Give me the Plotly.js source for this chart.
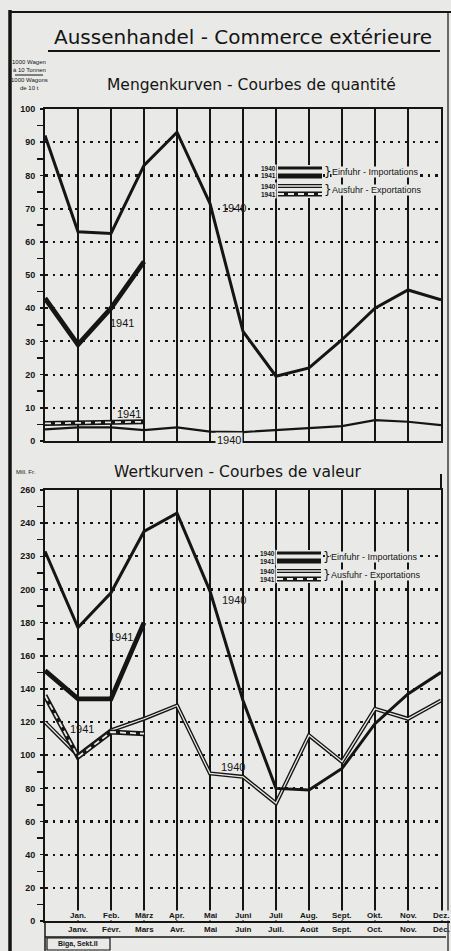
<!DOCTYPE html>
<html>
<head>
<meta charset="utf-8">
<script src="https://cdn.plot.ly/plotly-3.0.1.min.js"></script>
<style>
html,body{margin:0;padding:0;background:#e9e9e7;}
#chart{width:451px;height:951px;}
</style>
</head>
<body>
<div id="chart"></div>
<script>
// ---------- DATA ----------
const positions = [0,1,2,3,4,5,6,7,8,9,10,11,12]; // 0 = Dez. of previous year
const positions1941 = [0,1,2,3];
const monthsDE = ["Jan.","Feb.","März","Apr.","Mai","Juni","Juli","Aug.","Sept.","Okt.","Nov.","Dez."];
const monthsFR = ["Janv.","Févr.","Mars","Avr.","Mai","Juin","Juil.","Août","Sept.","Oct.","Nov.","Déc."];

// Quantity (1000 wagons of 10 t)
const imports1940Qty = [92, 63, 62.5, 83, 93, 71.5, 33, 19.5, 22, 30.5, 40, 45.5, 42.5];
const imports1941Qty = [43, 29, 40, 54];
const exports1940Qty = [3.5, 4.1, 4.1, 3.3, 4.1, 2.8, 2.7, 3.3, 4, 4.5, 6.3, 5.8, 4.8];
const exports1941Qty = [5.3, 5.4, 5.6, 5.8];

// Value (Mill. Fr.)
const imports1940Val = [223, 177, 198, 235, 246, 199, 133, 80, 79, 92, 119, 137, 150];
const imports1941Val = [151, 134, 134, 180];
const exports1940Val = [120, 100, 115, 122, 130, 89, 87, 71, 112, 96, 128, 122, 133];
const exports1941Val = [136, 99, 114, 113];

const qtyTicks = [0,10,20,30,40,50,60,70,80,90,100];
const qtyTickText = ["0","10","20","30","40","50","60","70","80","90","100"];
const valTicks = [0,20,40,60,80,100,120,140,160,180,200,220,240,260];
const valTickText = ["0","20","40","60","80","100","120","140","160","180","200","230","240","260"];

// ---------- HELPERS ----------
const W = 451, H = 951;
const px = x => x / W;
const py = y => 1 - y / H;
const INK = "#151515";
const PAPER = "#e9e9e7";

function ln(x, y, xa, ya, width, color, dash) {
  return {type:"scatter", mode:"lines", x:x, y:y, xaxis:xa, yaxis:ya,
          line:{color:color, width:width, dash:dash||"solid"},
          hoverinfo:"skip", showlegend:false, cliponaxis:true};
}

const traces = [
  // Top: quantity
  ln(positions, exports1940Qty, "x", "y", 2.2, INK),
  ln(positions1941, exports1941Qty, "x", "y", 5, INK),
  ln(positions1941, exports1941Qty, "x", "y", 1.8, PAPER, "6px,4px"),
  ln(positions, imports1940Qty, "x", "y", 3, INK),
  ln(positions1941, imports1941Qty, "x", "y", 4.8, INK),
  // Bottom: value
  ln(positions, exports1940Val, "x2", "y2", 4, INK),
  ln(positions, exports1940Val, "x2", "y2", 1.3, PAPER),
  ln(positions1941, exports1941Val, "x2", "y2", 5, INK),
  ln(positions1941, exports1941Val, "x2", "y2", 1.8, PAPER, "6px,4px"),
  ln(positions, imports1940Val, "x2", "y2", 3, INK),
  ln(positions1941, imports1941Val, "x2", "y2", 4.8, INK)
];

const tickFont = {family:"Liberation Sans, Arial, sans-serif", size:9, color:INK, weight:"bold"};

function xAxis(anchor) {
  return {domain:[px(45), px(441)], range:[0,12], anchor:anchor,
          showgrid:true, gridcolor:INK, gridwidth:1.6, dtick:1, tick0:0,
          showticklabels:false, ticks:"", zeroline:false,
          showline:true, linecolor:INK, linewidth:2, mirror:true, fixedrange:true};
}
function yAxis(domain, range, tv, tt, minorVals) {
  return {domain:domain, range:range,
          tickvals:tv, ticktext:tt, tickfont:tickFont,
          ticks:"outside", ticklen:3, tickwidth:1.5, tickcolor:INK, ticklabelstandoff:3,
          showgrid:true, gridcolor:INK, gridwidth:2.2, griddash:"2.5px,5px",
          zeroline:false, showline:true, linecolor:INK, linewidth:2, mirror:true,
          minor:{tickvals:minorVals, ticks:"outside", ticklen:6, tickwidth:1.5, tickcolor:INK, showgrid:false},
          fixedrange:true};
}
const qtyMinor = [5,15,25,35,45,55,65,75,85,95];
const valMinor = [10,30,50,70,90,110,130,150,170,190,210,230,250];

const yTop = yAxis([py(441), py(109)], [0,100], qtyTicks, qtyTickText, qtyMinor);
yTop.anchor = "x";
const yBot = yAxis([py(921), py(490)], [0,260], valTicks, valTickText, valMinor);
yBot.anchor = "x2";

const shapes = [];
const annotations = [];
function seg(x0,y0,x1,y1,w,color,dash){
  shapes.push({type:"line", xref:"paper", yref:"paper", x0:px(x0), y0:py(y0), x1:px(x1), y1:py(y1),
               line:{color:color||INK, width:w, dash:dash||"solid"}, layer:"above"});
}
function txt(x,y,text,size,anchor,extra){
  const a = Object.assign({xref:"paper", yref:"paper", x:px(x), y:py(y), text:text, showarrow:false,
          xanchor:anchor||"center", yanchor:"middle",
          font:{family:"DejaVu Sans, sans-serif", size:size, color:INK}}, extra||{});
  annotations.push(a);
}

// Outer frame
seg(10,10,10,951,3.5);
seg(10,12,451,12,2);
seg(448,12,448,951,1.2);

// Main title + underline
txt(243,37,"Aussenhandel - Commerce extérieure",20);
seg(48,51,440,51,2);

// Units
const uFont = {family:"Liberation Sans Narrow, Liberation Sans, sans-serif",size:6,color:INK};
txt(29,62,"1000 Wagen",6,"center",{font:uFont});
txt(29,70,"à 10 Tonnen",6,"center",{font:uFont});
seg(15,75,43,75,1);
txt(29,80,"1000 Wagons",6,"center",{font:uFont});
txt(29,88,"de 10 t",6,"center",{font:uFont});

// Subtitles
txt(252,85,"Mengenkurven - Courbes de quantité",15.5);
txt(238,472,"Wertkurven - Courbes de valeur",15.5);
txt(26,472,"Mill. Fr.",6,"center",{font:uFont});
seg(441,474,441,490,2);

// Legends
function legend(x0, yImp40, yImp41, yExp40, yExp41){
  const lx0 = x0, lx1 = x0 + 44;
  const smallFont = {family:"Liberation Sans Narrow, Liberation Sans, sans-serif", size:6.5, color:INK, weight:"bold"};
  const lbl = (y,t)=>annotations.push({xref:"paper", yref:"paper", x:px(lx0-1), y:py(y), text:t, showarrow:false,
        xanchor:"right", yanchor:"middle", font:smallFont, bgcolor:PAPER, borderpad:0});
  lbl(yImp40,"1940"); lbl(yImp41,"1941"); lbl(yExp40,"1940"); lbl(yExp41,"1941");
  shapes.push({type:"rect", xref:"paper", yref:"paper", x0:px(lx0-1), x1:px(lx1+1), y0:py(yExp41+4), y1:py(yImp40-3),
               fillcolor:PAPER, line:{width:0}, layer:"above"});
  seg(lx0, yImp40, lx1, yImp40, 3);
  seg(lx0, yImp41, lx1, yImp41, 4.8);
  seg(lx0, yExp40, lx1, yExp40, 4);
  seg(lx0, yExp40, lx1, yExp40, 1.3, PAPER);
  seg(lx0, yExp41, lx1, yExp41, 5);
  seg(lx0, yExp41, lx1, yExp41, 1.8, PAPER, "6px,4px");
  const f = {family:"Liberation Sans Narrow, Liberation Sans, sans-serif", size:9, color:INK};
  const brace = (y)=>annotations.push({xref:"paper", yref:"paper", x:px(lx1+1), y:py(y), text:"}", showarrow:false,
        xanchor:"left", yanchor:"middle", font:{family:"DejaVu Sans",size:12,color:INK}, borderpad:0});
  brace((yImp40+yImp41)/2); brace((yExp40+yExp41)/2);
  const lab = (y,t)=>annotations.push({xref:"paper", yref:"paper", x:px(lx1+9), y:py(y), text:t, showarrow:false,
        xanchor:"left", yanchor:"middle", font:f, bgcolor:PAPER, borderpad:0});
  lab((yImp40+yImp41)/2, "Einfuhr - Importations");
  lab((yExp40+yExp41)/2, "Ausfuhr - Exportations");
}
legend(278, 168, 176, 186, 194);
legend(277, 553, 561, 571, 579);

// Curve labels
const lblFont = {family:"Liberation Sans, sans-serif", size:11, color:INK};
txt(234,208,"1940",11,"center",{font:lblFont});
txt(122,323,"1941",11,"center",{font:lblFont});
txt(129,414,"1941",11,"center",{font:lblFont});
txt(229,440,"1940",11,"center",{font:lblFont, bgcolor:PAPER});
txt(234,600,"1940",11,"center",{font:lblFont});
txt(121,637,"1941",11,"center",{font:lblFont});
txt(82,729,"1941",11,"center",{font:lblFont});
txt(233,767,"1940",11,"center",{font:lblFont});

// Month labels under value chart
const mFont = {family:"Liberation Sans Narrow, Liberation Sans, sans-serif", size:8, color:INK, weight:"bold"};
monthsDE.forEach((m,i)=>{
  annotations.push({xref:"x2", yref:"paper", x:i+1, y:py(915), text:m, showarrow:false,
                    xanchor:"center", yanchor:"middle", font:mFont, bgcolor:PAPER, borderpad:0});
});
monthsFR.forEach((m,i)=>{
  annotations.push({xref:"x2", yref:"paper", x:i+1, y:py(929), text:m, showarrow:false,
                    xanchor:"center", yanchor:"middle", font:mFont});
});
seg(45,922,450,922,2);
seg(45,937,446,937,1.5);
seg(45,921,45,951,1.5);
// Source box
shapes.push({type:"rect", xref:"paper", yref:"paper", x0:px(47), x1:px(110), y0:py(950), y1:py(938),
             fillcolor:PAPER, line:{color:INK, width:1.2}, layer:"above"});
txt(78,944,"Biga, Sekt.II",7,"center",{font:{family:"Liberation Sans, sans-serif",size:7,color:INK,weight:"bold"}});

const layout = {
  width:W, height:H, margin:{l:0,r:0,t:0,b:0,pad:0},
  paper_bgcolor:PAPER, plot_bgcolor:PAPER, showlegend:false,
  xaxis: xAxis("y"),
  xaxis2: xAxis("y2"),
  yaxis: yTop,
  yaxis2: yBot,
  yaxis3: {overlaying:"y", side:"right", anchor:"x", range:[0,100], tickvals:qtyMinor,
           ticks:"inside", ticklen:5, tickwidth:1.5, tickcolor:INK, showticklabels:false,
           showgrid:false, zeroline:false, showline:false, fixedrange:true},
  yaxis4: {overlaying:"y2", side:"right", anchor:"x2", range:[0,260], tickvals:valMinor,
           ticks:"inside", ticklen:5, tickwidth:1.5, tickcolor:INK, showticklabels:false,
           showgrid:false, zeroline:false, showline:false, fixedrange:true},
  shapes:shapes, annotations:annotations
};

Plotly.newPlot("chart", traces, layout, {staticPlot:true, displayModeBar:false});
</script>
</body>
</html>
